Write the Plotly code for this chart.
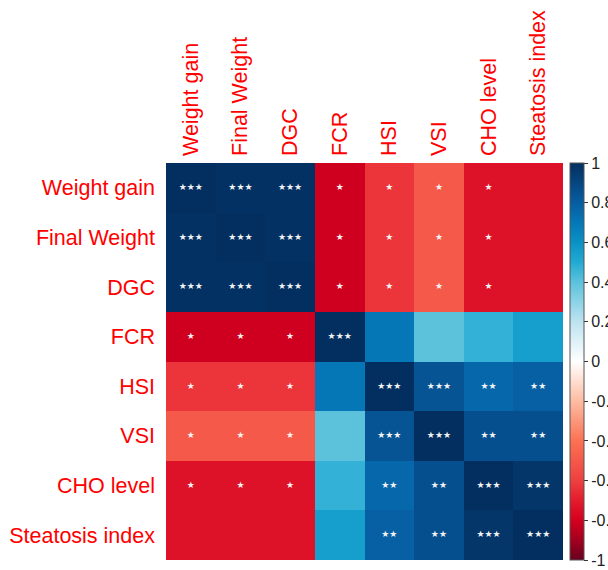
import plotly.graph_objects as go

# Variables in display order (top-to-bottom, left-to-right)
labels = ["Weight gain", "Final Weight", "DGC", "FCR", "HSI", "VSI",
          "CHO level", "Steatosis index"]

# Pearson correlation matrix (symmetric)
corr = [
    [1.00, 0.99, 0.99, -0.81, -0.63, -0.50, -0.74, -0.74],
    [0.99, 1.00, 0.99, -0.81, -0.63, -0.50, -0.74, -0.74],
    [0.99, 0.99, 1.00, -0.81, -0.63, -0.50, -0.74, -0.74],
    [-0.81, -0.81, -0.81, 1.00, 0.70, 0.40, 0.47, 0.55],
    [-0.63, -0.63, -0.63, 0.70, 1.00, 0.84, 0.76, 0.79],
    [-0.50, -0.50, -0.50, 0.40, 0.84, 1.00, 0.86, 0.86],
    [-0.74, -0.74, -0.74, 0.47, 0.76, 0.86, 1.00, 0.97],
    [-0.74, -0.74, -0.74, 0.55, 0.79, 0.86, 0.97, 1.00],
]

# Significance codes (* p<0.05, ** p<0.01, *** p<0.001)
sig = [
    ["***", "***", "***", "*", "*", "*", "*", ""],
    ["***", "***", "***", "*", "*", "*", "*", ""],
    ["***", "***", "***", "*", "*", "*", "*", ""],
    ["*", "*", "*", "***", "", "", "", ""],
    ["*", "*", "*", "", "***", "***", "**", "**"],
    ["*", "*", "*", "", "***", "***", "**", "**"],
    ["*", "*", "*", "", "**", "**", "***", "***"],
    ["", "", "", "", "**", "**", "***", "***"],
]

cbar_ticks = [1, 0.8, 0.6, 0.4, 0.2, 0, -0.2, -0.4, -0.6, -0.8, -1]
cbar_text = ["1", "0.8", "0.6", "0.4", "0.2", "0", "-0.2", "-0.4", "-0.6", "-0.8", "-1"]

colorscale = [
    [0.00, "#67001F"],
    [0.05, "#A3001F"],
    [0.10, "#D4001F"],
    [0.15, "#E31C2E"],
    [0.20, "#EE4040"],
    [0.30, "#FB7252"],
    [0.40, "#FDBCA2"],
    [0.50, "#FFFFFF"],
    [0.60, "#BDE3F0"],
    [0.70, "#5CC2DC"],
    [0.75, "#22AAD3"],
    [0.80, "#0A91C4"],
    [0.85, "#0577B7"],
    [0.90, "#075DA1"],
    [1.00, "#032F60"],
]

FONT = "Liberation Sans, Arial, sans-serif"

fig = go.Figure()

fig.add_trace(go.Heatmap(
    z=corr, x=labels, y=labels,
    zmin=-1, zmax=1,
    colorscale=colorscale,
    colorbar=dict(
        x=1.0176, xanchor="left",
        y=0.5, yanchor="middle",
        lenmode="pixels", len=397,
        thicknessmode="pixels", thickness=14,
        xpad=0, ypad=0,
        outlinewidth=1, outlinecolor="#555555",
        tickmode="array", tickvals=cbar_ticks, ticktext=cbar_text,
        ticks="outside", ticklen=4, tickcolor="#333333",
        tickfont=dict(family=FONT, size=16, color="#222222"),
    ),
))

# Significance stars at cell centres
sx, sy, st = [], [], []
for i, row in enumerate(sig):
    for j, s in enumerate(row):
        if s:
            sx.append(labels[j])
            sy.append(labels[i])
            st.append("\u2605" * len(s))

fig.add_trace(go.Scatter(
    x=sx, y=sy, text=st, mode="text",
    textfont=dict(family="DejaVu Sans", size=9, color="#F2F2F2"),
    hoverinfo="skip", showlegend=False,
))

fig.update_layout(
    width=608, height=570,
    margin=dict(l=166, r=45, t=163, b=10, autoexpand=False),
    paper_bgcolor="white", plot_bgcolor="white",
    font=dict(family=FONT),
    xaxis=dict(
        side="top", tickangle=-90, showgrid=False, zeroline=False,
        ticks="", ticklabelstandoff=6,
        tickfont=dict(family=FONT, size=21.5, color="#FF0000"),
    ),
    yaxis=dict(
        autorange="reversed", showgrid=False, zeroline=False,
        ticks="", ticklabelstandoff=10,
        tickfont=dict(family=FONT, size=21.5, color="#FF0000"),
    ),
)

fig.write_html("out.html")
